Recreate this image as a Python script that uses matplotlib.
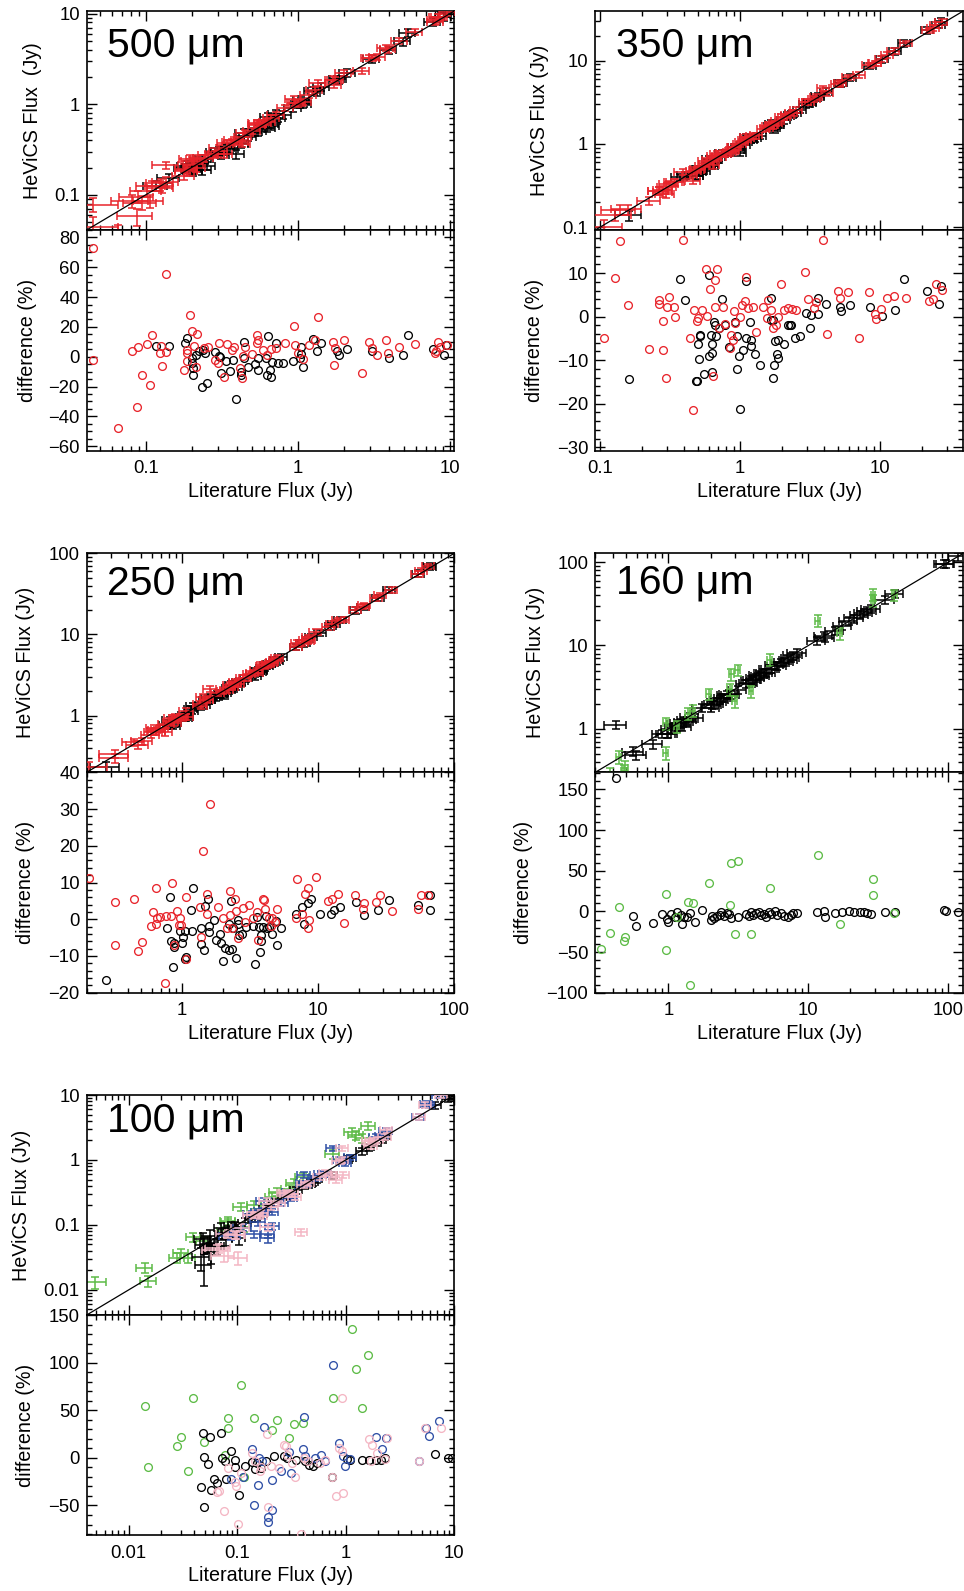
import numpy as np
import matplotlib
matplotlib.use('Agg')
import matplotlib.pyplot as plt
from matplotlib.ticker import LogLocator, FuncFormatter, MultipleLocator, AutoMinorLocator, NullFormatter

plt.rcParams['font.family'] = ['Liberation Sans', 'DejaVu Sans']
plt.rcParams['axes.unicode_minus'] = True

RED = '#e8242b'
BLACK = '#000000'
GREEN = '#5dbb46'
BLUE = '#2f4fa6'
PINK = '#f4b6c4'

# ---------------- 500 micron ----------------
x500_red = [0.0448, 0.0448, 0.066, 0.0873, 0.094, 0.106, 0.0817, 0.0895, 0.102, 0.110, 0.124, 0.127, 0.136, 0.136,
            0.126, 0.196, 0.202, 0.218, 0.178, 0.186, 0.186, 0.186, 0.214, 0.207, 0.240, 0.256, 0.302, 0.341, 0.368,
            0.287, 0.299, 0.326, 0.378, 0.428, 0.418, 0.437, 0.449, 0.50, 0.54, 0.55, 0.54, 0.59, 0.63, 0.67, 0.72,
            0.83, 0.94, 0.96, 1.0, 1.09, 1.18, 1.29, 1.35, 1.71, 1.76, 1.73, 2.0, 2.64, 2.94, 3.07, 3.33, 3.79, 3.92,
            4.66, 5.86, 8.1, 8.3, 8.6, 8.0, 9.6]
d500_red = [73.2, -2.2, -48, -33.9, -12.5, -19, 3.8, 6.7, 8.5, 14.3, 2.2, -6, 55.8, 2.9,
            7.1, 28.1, 17.6, 15.2, -8.9, 4.5, -2.7, 2.2, -6.7, 7.1, 5.6, 6.3, 9.4, 8.5, 4.2,
            -2.2, -4.5, -13.4, 6.7, -14.5, -7.8, 0.4, 6.7, 1.8, 14.3, 11.2, 8.9, 4.5, 0.9, 4.9, 5.8,
            9.4, 20.3, 7.6, 2.7, -1.8, 7.8, 11.2, 26.6, 9.6, 6, -5.6, 11.2, -11.2, 9.6, 6, 0.9, 11.2, 2.7,
            6.7, 8.3, 3.8, 10, 6.7, 2.2, 7.8]
x500_blk = [0.117, 0.142, 0.180, 0.187, 0.202, 0.200, 0.206, 0.206, 0.215, 0.225, 0.237, 0.244, 0.235, 0.253,
            0.286, 0.302, 0.309, 0.313, 0.337, 0.358, 0.374, 0.420, 0.420, 0.393, 0.442, 0.446, 0.47, 0.52, 0.545,
            0.55, 0.62, 0.64, 0.63, 0.67, 0.66, 0.72, 0.68, 0.74, 0.80, 0.93, 1.05, 1.05, 1.03, 1.09, 1.25, 1.33,
            1.43, 1.81, 1.86, 2.12, 3.07, 3.97, 4.9, 5.3, 7.7, 9.1, 9.5]
d500_blk = [6.9, 7.1, 8.9, 12.7, -0.7, -4.5, -7.8, -12, 1.1, 4, 4.5, 2.7, -20.5, -17.4,
            3.3, 0.4, -0.4, -11.2, -2.9, -9.4, -2.2, -10, -12.3, -28.6, 9.6, -1.1, -7.1, -4.9, -1.1,
            -8.7, -1.1, 13.8, -12.3, -13.4, -8.9, 8.9, -3.8, -4.5, -4, -2.7, 6.7, 1.8, -1.1, -7.1, 11.6, 4,
            8.9, 4, 0.9, 4.9, 4, -0.7, 0.9, 14.7, 5.1, 0.9, 7.8]

# ---------------- 350 micron ----------------
x350_red = [0.107, 0.128, 0.139, 0.159, 0.225, 0.264, 0.264, 0.283, 0.283, 0.294, 0.301, 0.313, 0.337, 0.346,
            0.393, 0.46, 0.472, 0.49, 0.50, 0.44, 0.54, 0.57, 0.61, 0.58, 0.66, 0.69, 0.64, 0.66, 0.76, 0.78,
            0.71, 0.85, 0.87, 0.89, 0.91, 0.92, 1.0, 1.03, 1.08, 1.11, 1.14, 1.23, 1.31, 1.47, 1.59, 1.68, 1.71,
            1.55, 1.8, 1.86, 1.98, 2.07, 2.2, 2.34, 2.53, 2.93, 3.08, 3.38, 3.52, 4.2, 4.99, 5.18, 5.94, 7.1,
            8.3, 9.2, 9.3, 10.2, 11.3, 12.5, 15.4, 22.3, 23.9, 25.2, 27.6, 3.95]
d350_red = [-4.9, 8.9, 17.3, 2.7, -7.5, 3.8, 3.0, -1, -7.7, -14.1, 2.3, 4.5, 2.3, -0.2,
            17.7, -21.4, 1.5, -1, -0.4, -4.9, 1.6, 10.9, 6.4, 0.2, 8.5, 11, -13.7, 2.3, 2.3, -1.7,
            -2.7, -7.2, -4.2, -5.3, 1.3, -1.4, -0.2, 2.7, 3.7, 9.2, 1.9, 2.1, -3.6, 2.3, 3.8, 1.5, -2.7,
            -0.4, -1.9, 0, 7.4, 1.5, 1.9, 1.7, 1.6, 10.2, 4, 2, 3.3, -3.9, 5.8, 4.3, 5.7, -4.8,
            5.7, 0.5, -0.5, 1.7, 4.3, 4.7, 4.3, 3.6, 4, 7.4, 6.2, 17.7]
x350_blk = [0.162, 0.37, 0.405, 0.485, 0.49, 0.515, 0.52, 0.50, 0.51, 0.55, 0.60, 0.60, 0.63, 0.63, 0.62, 0.63,
            0.65, 0.66, 0.67, 0.74, 0.78, 0.71, 0.84, 0.92, 0.96, 0.96, 1.0, 0.99, 1.06, 1.11, 1.11, 1.18, 1.20,
            1.20, 1.28, 1.40, 1.68, 1.66, 1.72, 1.78, 1.86, 1.83, 1.88, 1.76, 1.71, 2.06, 2.2, 2.29, 2.33, 2.48,
            2.68, 2.96, 3.17, 3.2, 3.6, 3.6, 4.12, 5.2, 5.3, 6.1, 8.5, 10.4, 12.8, 14.9, 21.8, 26.3, 27.5]
d350_blk = [-14.4, 8.6, 3.8, -14.9, -14.9, -4.2, -4.4, -6.4, -9.8, -13.2, 9.5, -9.1, -8.4, -6.4, -4.2, -12.7,
            -1.3, -1.9, -4.5, 4, -2, -2.7, -7, -1.3, -4.4, -12, -21.2, -9.1, -7.7, 8.2, -4.8, -1.3, -5.4,
            -6.8, -8.7, -11, 4.3, -0.7, -0.7, -5.7, -5.3, -8.7, -9.5, -11, -14.2, -6.3, -2, -2, -1.9, -4.9,
            -4.5, 0.8, -2.7, 0.4, 4.3, 0.5, 3, 2.3, 1.3, 2.7, 2.2, 0.2, 1.5, 8.7, 5.9, 2.9, 7]

# ---------------- 250 micron ----------------
x250_red = [0.209, 0.322, 0.324, 0.446, 0.476, 0.513, 0.59, 0.617, 0.64, 0.65, 0.66, 0.69, 0.77, 0.75, 0.83,
            0.85, 0.92, 0.97, 0.99, 0.95, 0.87, 1.08, 1.08, 1.35, 1.37, 1.44, 1.52, 1.52, 1.61, 1.84, 2.02,
            2.13, 2.24, 2.24, 2.46, 2.48, 2.34, 2.57, 2.8, 3.12, 2.92, 3.3, 3.54, 3.91, 3.98, 3.6, 4.1, 4.33,
            4.5, 4.6, 5.0, 4.85, 6.9, 7.05, 7.66, 8.0, 8.5, 8.6, 8.5, 9.6, 11.8, 12.7, 14.0, 15.4, 18.7,
            21.5, 21.8, 26.7, 28.5, 34.6, 53.8, 57.3, 64.6]
d250_red = [11.1, 4.7, -7.1, 5.6, -8.7, -6.2, -1.9, 2, 8.5, -1.2, 0.4, 0.6, 0.9, -17.3, 0.8,
            9.9, 2.2, 0.2, -1.6, -1.5, -7.1, 6.1, -10.7, 3.4, -4.8, 18.7, 1.5, 6.8, 31.5, 3.3, 0.2,
            -2.5, 7.6, 1.1, 5.6, 2.2, -2.5, -5.1, 3.1, 3.8, -0.7, 0.2, 2, 5.6, 5.2, -5.7, 2.9, 0.4,
            -1.9, 0.2, 2.9, -0.7, 0.2, 10.9, 1.3, 7, 8.5, -0.3, -2.5, 11.5, 4.9, 5.6, 6.9, -0.9, 6.5,
            2.7, 4.3, 4.7, 6.7, 2.2, 2.9, 6.7, 6.7]
x250_blk = [0.279, 0.78, 0.82, 0.83, 0.87, 0.88, 0.86, 0.97, 1.02, 1.01, 1.05, 1.06, 1.08, 1.16, 1.19, 1.2,
            1.39, 1.39, 1.46, 1.49, 1.56, 1.58, 1.59, 1.71, 1.78, 1.91, 1.95, 1.99, 2.06, 2.23, 2.32, 2.3,
            2.21, 2.36, 2.51, 2.58, 2.58, 2.64, 2.76, 2.95, 3.3, 3.46, 3.56, 3.66, 3.74, 3.8, 3.8, 3.91,
            4.14, 4.21, 4.38, 4.58, 4.9, 5.03, 5.37, 6.9, 7.6, 7.9, 8.4, 8.9, 10.4, 12.4, 13.1, 14.6, 18.9,
            21.6, 27.6, 33.4, 54.2, 65.8, 66.6]
d250_blk = [-16.5, -2.3, 6.1, -5.9, -6.6, -7.5, -13, -3.3, -4.9, -6.6, -3.3, -10.7, -10.3, 2.5, -3.2, 8.4,
            -2.5, -6.8, -8.5, 3.5, 5.4, -1.8, -3.5, -0.3, -5.7, -4.1, -6.6, -11.5, -7.8, -8.5, -8.2, 5,
            -1.2, -2.5, -10.5, -0.2, -1.4, -4.2, -3.9, -2.2, -1.9, -12.3, 0.5, -2.1, -8.9, -4.3, -6, -2.1,
            0.9, -2.3, -2.2, -3.9, -0.6, -6.9, -2.5, 1.4, 3.4, -1.4, 4.5, 5.6, 1.3, 1.4, 2.6, 3.3, 4.7,
            1.1, 2.5, 5.3, 4, 6.7, 2.6]

# ---------------- 160 micron ----------------
x160_grn = [0.33, 0.38, 0.44, 0.48, 0.49, 0.96, 0.96, 1.15, 1.37, 1.49, 1.42, 1.94, 2.75, 2.81, 3.13, 2.97,
            3.89, 5.29, 11.7, 16.7, 29.0, 29.0, 41.0]
d160_grn = [-46.3, -26.2, 4.9, -36, -31, 21.7, -47, -7.4, 11, 10.7, -91, 34.4, 7.8, 59.9, 61.5, -28.3,
            -27.9, 28.3, 69.7, -16, 40.2, 19.7, -1.6]
x160_blk = [0.42, 0.56, 0.59, 0.77, 0.90, 0.97, 1.0, 1.04, 1.12, 1.16, 1.22, 1.25, 1.29, 1.36, 1.42, 1.54,
            1.74, 2.0, 2.05, 2.13, 2.23, 2.32, 2.38, 2.49, 2.6, 2.7, 2.78, 3.13, 3.6, 3.76, 3.9, 4.0, 4.2,
            4.43, 4.55, 4.8, 5.0, 5.2, 5.4, 5.74, 6.0, 6.37, 6.7, 7.2, 7.5, 7.8, 8.3, 11.5, 12.9, 13.2,
            15.4, 17.5, 19.5, 21.2, 23.3, 24.8, 26.4, 28.1, 35.3, 41.6, 93.5, 95.9, 118]
d160_blk = [164, -5.3, -18, -14.8, -3.7, -9.8, -13.5, -3.3, -6.6, -0.4, -4.5, -16, -6.6, -7.4, -1.6, -12.7,
            1.6, -10.7, -5.7, -7.8, -5.7, -4.1, -1.2, -5.3, -2.5, -3.7, -8.6, -7, -3.3, -5.7, -1.2, -4.5, -2.5,
            -0.4, -4.5, -3.7, -6.6, -0.4, -3.7, 0.4, -4.5, -2.5, -5.3, -6.6, -4.5, -2.5, -2, -0.8, 0.4, -6.6,
            -2, -0.8, 0.4, -0.4, -0.4, -0.8, -1.6, -2.9, -0.4, -0.4, 1.6, 0.4, -0.4]

# ---------------- 100 micron ----------------
x100_grn = [0.0049, 0.0141, 0.0152, 0.028, 0.0303, 0.0354, 0.0394, 0.049, 0.082, 0.083, 0.077, 0.108, 0.115,
            0.144, 0.21, 0.233, 0.30, 0.33, 0.40, 0.76, 1.14, 1.24, 1.61, 1.42]
d100_grn = [165, 54.4, -9.5, 12.3, 21.4, -14, 63.2, 16.5, 41.8, 31.2, 2.8, 76.5, -20,
            42.1, 29.1, 40, 20.4, 35.8, 36.1, 62.5, 135.5, 93.7, 107.8, 52]
x100_blk = [0.0463, 0.049, 0.048, 0.0557, 0.071, 0.049, 0.054, 0.057, 0.061, 0.065, 0.073, 0.077, 0.078, 0.088,
            0.095, 0.096, 0.104, 0.118, 0.137, 0.145, 0.153, 0.167, 0.183, 0.22, 0.27, 0.29, 0.35, 0.42, 0.46,
            0.50, 0.54, 0.74, 1.02, 1.1, 1.4, 1.62, 1.88, 2.1, 2.3, 6.7, 8.8, 9.6]
d100_blk = [-30.9, -51.6, 25.6, 21.8, 26.3, 0.7, -6, -33.3, -22.1, -26.3, 0, -2.8, -21.8, 7.7,
            -2.5, -9.8, -39, -8.1, -4.6, -11.2, -5.6, -10.5, -3.5, 1.8, 1.8, 0, -1.8, -3.5, -7,
            -8.8, -5.3, -20.4, -0.7, -1.8, -2.5, -2.5, -1.8, -1.8, 0, 4.2, 0, 0]
x100_blu = [0.087, 0.113, 0.137, 0.155, 0.142, 0.158, 0.17, 0.178, 0.19, 0.19, 0.207, 0.21, 0.255, 0.30, 0.31,
            0.40, 0.415, 0.42, 0.52, 0.59, 0.64, 0.76, 0.87, 0.94, 0.99, 1.1, 1.88, 2.16, 2.34, 5.5, 5.8, 7.2, 4.7]
d100_blu = [-21.8, -19.7, 8.8, -28.8, -49.1, 0, -3.5, 32.3, -61.8, -67.4, -23.2, -54.4, -13.3, 6, -16,
            9.5, 42.8, 1.8, 0, 3.5, -3.5, 97.6, 16.1, 1.8, -8.8, -0.7, 21.8, 9.8, 21.1, 31.6, 22.5, 38.3, -2.8]
x100_pnk = [0.082, 0.068, 0.065, 0.075, 0.102, 0.098, 0.095, 0.108, 0.137, 0.147, 0.161, 0.167, 0.188, 0.19,
            0.205, 0.24, 0.27, 0.28, 0.29, 0.32, 0.34, 0.39, 0.41, 0.45, 0.58, 0.65, 0.74, 0.81, 0.94, 0.93,
            0.86, 0.93, 1.62, 1.74, 1.7, 1.94, 2.38, 4.77, 5.4, 7.6, 2.3]
d100_pnk = [-10.5, -35.1, -35.8, -55.5, -69.5, -29.8, -25.6, -15.8, 5.3, -3.5, -14, -9.8, 25.3, -51.2,
            -8.8, -10.5, 13, 12.3, 3.5, -5.3, -20.4, -80, 0, -2.8, -5.3, -2.5, -20.4, -39.7, -37.2, 62.5,
            10.5, 7, 19.3, 14, -3.5, 5.3, 20.4, -3.5, 31.6, 31.6, -0.7]

# relative / floor uncertainties per series (x_frac, x_floor, y_frac, y_floor)
err500_red = (0.12, 0.020, 0.08, 0.012)
err500_blk = (0.12, 0.015, 0.10, 0.010)
err350_red = (0.10, 0.035, 0.08, 0.018)
err350_blk = (0.10, 0.030, 0.09, 0.015)
err250_red = (0.10, 0.070, 0.08, 0.030)
err250_blk = (0.10, 0.060, 0.09, 0.030)
err160_grn = (0.04, 0.010, 0.16, 0.040)
err160_blk = (0.15, 0.040, 0.11, 0.030)
err100_grn = (0.15, 0.001, 0.15, 0.002)
err100_blk = (0.12, 0.006, 0.12, 0.012)
err100_blu = (0.13, 0.015, 0.10, 0.006)
err100_pnk = (0.13, 0.015, 0.10, 0.006)

W, H = 964, 1591
fig = plt.figure(figsize=(W / 100, H / 100), dpi=100)

LABEL_FS = 14.2
TICK_FS = 13.3


def px_axes(left, right, top, bottom):
    return fig.add_axes([left / W, 1 - bottom / H, (right - left) / W, (bottom - top) / H])


def unc(v, frac, floor):
    v = np.asarray(v, float)
    return np.minimum(np.hypot(frac * v, floor), 0.85 * v)


def fmt(v, pos):
    return f'{v:g}'


def style(ax):
    for s in ax.spines.values():
        s.set_linewidth(1.2)
    ax.tick_params(which='both', direction='in', top=True, right=True, width=1.0)
    ax.tick_params(which='major', length=7)
    ax.tick_params(which='minor', length=3.5)
    ax.tick_params(axis='both', labelsize=TICK_FS)
    ax.tick_params(axis='x', pad=7)
    ax.tick_params(axis='y', pad=5)


def log_axis(axis):
    axis.set_major_locator(LogLocator(base=10, numticks=20))
    axis.set_minor_locator(LogLocator(base=10, subs=np.arange(2, 10), numticks=20))
    axis.set_major_formatter(FuncFormatter(fmt))
    axis.set_minor_formatter(NullFormatter())


def panel(cols, rows, series, lim, dlim, dmajor, nminor, title, title_y,
          ylab_top_x, ylab_bot_x, top_label='HeViCS Flux (Jy)'):
    left, right = cols
    top, mid, bottom = rows
    axt = px_axes(left, right, top, mid)
    axb = px_axes(left, right, mid, bottom)
    for k, (xs, ds, col, er) in enumerate(series):
        x = np.asarray(xs, float)
        d = np.asarray(ds, float)
        y = x * (1 + d / 100.0)
        axt.errorbar(x, y, xerr=unc(x, er[0], er[1]), yerr=unc(y, er[2], er[3]), fmt='none',
                     ecolor=col, elinewidth=1.1, capsize=2.8, capthick=1.1, zorder=2 + k)
    for k, (xs, ds, col, er) in enumerate(series):
        axb.plot(xs, ds, 'o', ms=5.6, mfc='none', mec=col, mew=0.95, zorder=2 + k, clip_on=True)
    axt.axline((1, 1), (10, 10), color='black', lw=0.9, zorder=10)

    for ax in (axt, axb):
        ax.set_xscale('log')
        ax.set_xlim(*lim)
        log_axis(ax.xaxis)
        style(ax)
    axt.set_yscale('log')
    axt.set_ylim(*lim)
    log_axis(axt.yaxis)
    axt.tick_params(axis='x', labelbottom=False)
    axb.set_ylim(*dlim)
    axb.yaxis.set_major_locator(MultipleLocator(dmajor))
    axb.yaxis.set_minor_locator(AutoMinorLocator(nminor))

    axt.set_ylabel(top_label, fontsize=LABEL_FS)
    axt.yaxis.set_label_coords(ylab_top_x, 0.5)
    axb.set_ylabel('difference (%)', fontsize=LABEL_FS)
    axb.yaxis.set_label_coords(ylab_bot_x, 0.5)
    axb.set_xlabel('Literature Flux (Jy)', fontsize=LABEL_FS)
    axb.xaxis.set_label_coords(0.5, -0.14)
    axt.text(0.055, title_y, title, transform=axt.transAxes, fontsize=29.5, va='baseline', ha='left')


LEFT = (86.7, 454.3)
RIGHT = (595.3, 963.3)

panel(LEFT, (11, 230, 450.7),
      [(x500_blk, d500_blk, BLACK, err500_blk), (x500_red, d500_red, RED, err500_red)],
      (0.0409, 10.7), (-63, 85), 20, 4, '500 μm', 0.79, -0.122, -0.135, 'HeViCS Flux  (Jy)')

panel(RIGHT, (11, 230, 450.7),
      [(x350_blk, d350_blk, BLACK, err350_blk), (x350_red, d350_red, RED, err350_red)],
      (0.0926, 39.4), (-30.8, 19.9), 10, 5, '350 μm', 0.79, -0.127, -0.140)

panel(LEFT, (553.3, 772.3, 992.7),
      [(x250_blk, d250_blk, BLACK, err250_blk), (x250_red, d250_red, RED, err250_red)],
      (0.2, 100), (-20, 40), 10, 5, '250 μm', 0.81, -0.140, -0.140)

panel(RIGHT, (553.3, 772.3, 992.7),
      [(x160_blk, d160_blk, BLACK, err160_blk), (x160_grn, d160_grn, GREEN, err160_grn)],
      (0.30, 128), (-100, 171), 50, 5, '160 μm', 0.817, -0.1375, -0.170)

panel(LEFT, (1095, 1315, 1535),
      [(x100_grn, d100_grn, GREEN, err100_grn), (x100_blk, d100_blk, BLACK, err100_blk),
       (x100_blu, d100_blu, BLUE, err100_blu), (x100_pnk, d100_pnk, PINK, err100_pnk)],
      (0.0041, 10), (-81, 150), 50, 5, '100 μm', 0.833, -0.151, -0.140)

fig.savefig('out.png', dpi=100)
